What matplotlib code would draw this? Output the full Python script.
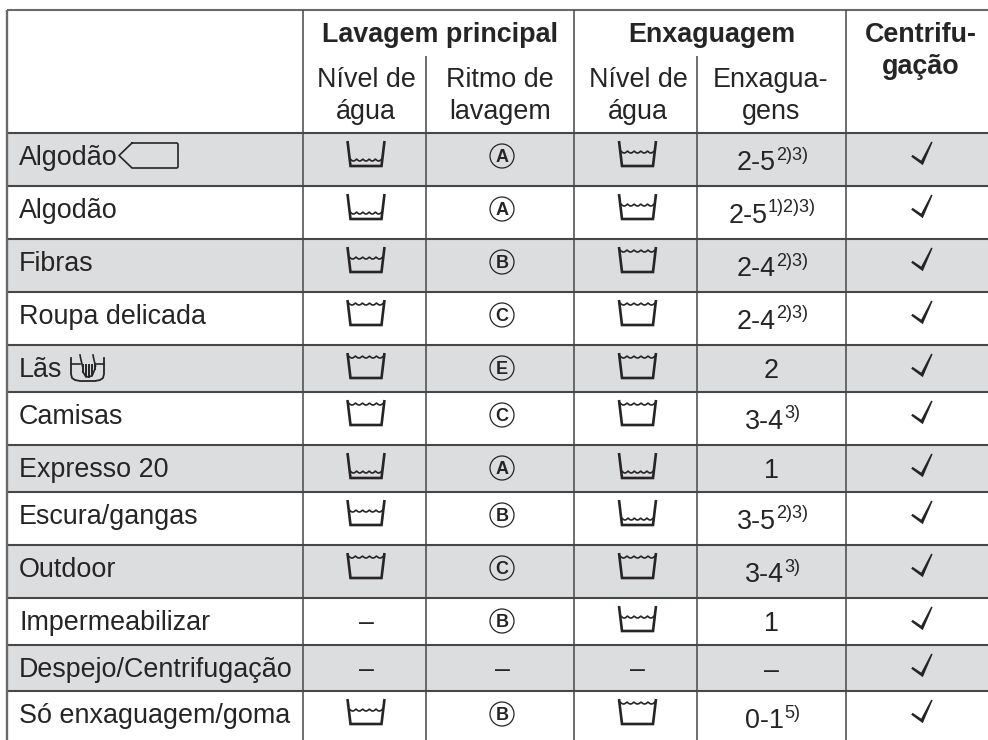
import numpy as np
import matplotlib
matplotlib.use('Agg')
import matplotlib.pyplot as plt
from matplotlib.patches import Circle, Polygon, Rectangle

plt.rcParams['font.family'] = 'Liberation Sans'

programmes = ['Algodão', 'Algodão', 'Fibras', 'Roupa delicada', 'Lãs', 'Camisas', 'Expresso 20',
              'Escura/gangas', 'Outdoor', 'Impermeabilizar', 'Despejo/Centrifugação', 'Só enxaguagem/goma']
main_level = ['low', 'low', 'mid', 'high', 'high', 'high', 'low', 'mid', 'high', '-', '-', 'mid']
main_rhythm = ['A', 'A', 'B', 'C', 'E', 'C', 'A', 'B', 'C', 'B', '-', 'B']
rinse_level = ['mid', 'mid', 'high', 'high', 'high', 'high', 'low', 'low', 'high', 'mid', '-', 'high']
rinse_count = ['2-5', '2-5', '2-4', '2-4', '2', '3-4', '1', '3-5', '3-4', '1', '–', '0-1']
rinse_notes = ['2)3)', '1)2)3)', '2)3)', '2)3)', '', '3)', '', '2)3)', '3)', '', '', '5)']

# layout in image pixels
row_y = [133, 186, 239, 292, 345, 392, 445, 492, 545, 598, 645, 691, 740]
col_x = [7, 303, 426, 574, 697, 846, 988]
wave_drop = {'high': 4, 'mid': 11, 'low': 19}

INK = '#262425'
LINE = '#474747'
GREY = '#dcddde'
FS = 19.4

fig = plt.figure(figsize=(9.88, 7.4), dpi=100)
ax = fig.add_axes([0, 0, 1, 1])
ax.set_xlim(0, 988)
ax.set_ylim(740, 0)
ax.axis('off')


def basin(cx, top, level):
    bottom = top + 25
    ax.plot([cx - 18.5, cx - 15.5, cx + 15.5, cx + 18.5], [top, bottom, bottom, top],
            color=INK, lw=1.9, solid_joinstyle='miter', solid_capstyle='butt')
    # water line, five small scallops
    t = np.linspace(0, 1, 60)
    half = 18.5 - 3 * wave_drop[level] / 25 - 0.5
    wx = cx - half + 2 * half * t
    wy = top + wave_drop[level] + 2.0 * (np.abs(np.sin(np.pi * 5 * t)) - 0.5)
    ax.plot(wx, wy, color=INK, lw=1.2)


def rhythm(cx, top, letter):
    ax.add_patch(Circle((cx, top + 23), 12, fill=False, ec=INK, lw=0.9))
    ax.text(cx, top + 29.3, letter, ha='center', va='baseline', fontsize=13,
            fontweight='bold', color=INK)


def tick(cx, top):
    vx, vy = cx, top + 31
    pts = [(-10.8, -7.3), (-9.4, -9.2), (-0.8, -3.4), (9.2, -22.4), (10.6, -21.8), (0.8, 1.2)]
    ax.add_patch(Polygon([(vx + a, vy + b) for a, b in pts], closed=True, fc=INK, ec='none'))


def tag():
    ax.plot([132, 119, 132, 177, 178, 178, 177, 132], [143, 155.5, 168, 168, 167, 144, 143, 143],
            color=INK, lw=1.2)


def hand_tub():
    # outer tub with side handles
    ax.plot([71, 71, 72, 75, 80, 95, 100, 103, 104, 104],
            [358, 374, 378, 380, 381, 381, 380, 378, 374, 358], color=INK, lw=1.3)
    ax.plot([71, 80], [364, 364], color=INK, lw=1.2)
    ax.plot([95, 104], [364, 364], color=INK, lw=1.2)
    # hand
    ax.plot([80, 81, 82.5], [355, 360, 366], color=INK, lw=1.2)
    ax.plot([93, 94, 95.5], [355, 360, 366], color=INK, lw=1.2)
    for x, y2 in zip([83, 86, 89, 92, 95], [372, 376, 377, 375, 369]):
        ax.plot([x, x], [365, y2], color=INK, lw=1.4)
    ax.plot([83, 86, 92, 95], [372, 377, 376, 369], color=INK, lw=1.2)


for i in range(len(programmes)):
    top = row_y[i]
    if i % 2 == 0:
        ax.add_patch(Rectangle((col_x[0], top), 988 - col_x[0], row_y[i + 1] - top, fc=GREY, ec='none', zorder=0))
    ax.text(19, top + 32, programmes[i], ha='left', va='baseline', fontsize=FS, color=INK)

    c1 = (col_x[1] + col_x[2]) / 2 + 1.5
    c2 = (col_x[2] + col_x[3]) / 2 + 2
    c3 = (col_x[3] + col_x[4]) / 2 + 2
    c4 = (col_x[4] + col_x[5]) / 2
    c5 = (col_x[5] + col_x[6]) / 2 + 5

    if main_level[i] == '-':
        ax.text(c1, top + 32, '–', ha='center', va='baseline', fontsize=FS, color=INK)
    else:
        basin(c1, top + 8, main_level[i])
    if main_rhythm[i] == '-':
        ax.text(c2, top + 32, '–', ha='center', va='baseline', fontsize=FS, color=INK)
    else:
        rhythm(c2, top, main_rhythm[i])
    if rinse_level[i] == '-':
        ax.text(c3, top + 32, '–', ha='center', va='baseline', fontsize=FS, color=INK)
    else:
        basin(c3, top + 8, rinse_level[i])

    if rinse_notes[i]:
        base = ax.text(0, top + 37, rinse_count[i], ha='left', va='baseline', fontsize=FS, color=INK)
        sup = ax.text(0, top + 26.5, rinse_notes[i], ha='left', va='baseline', fontsize=13, color=INK)
        r = fig.canvas.get_renderer()
        w1 = base.get_window_extent(r).width
        w2 = sup.get_window_extent(r).width
        start = c4 + 1 - (w1 + w2) / 2
        base.set_x(start)
        sup.set_x(start + w1)
    else:
        ax.text(c4, top + 33, rinse_count[i], ha='center', va='baseline', fontsize=FS, color=INK)
    tick(c5, top)

tag()
hand_tub()

# grid lines
for y in row_y[:-1]:
    ax.plot([col_x[0], 988], [y, y], color=LINE, lw=1.5, solid_capstyle='butt', zorder=3)
ax.plot([col_x[0], 988], [10, 10], color='#6a6a6a', lw=1.5, solid_capstyle='butt', zorder=3)
ax.plot([col_x[0], col_x[0]], [10, 740], color='#6a6a6a', lw=1.7, solid_capstyle='butt', zorder=3)
for x in [col_x[1], col_x[3], col_x[5]]:
    ax.plot([x, x], [10, 740], color=LINE, lw=1.1, solid_capstyle='butt', zorder=3)
for x in [col_x[2], col_x[4]]:
    ax.plot([x, x], [56, 740], color=LINE, lw=1.1, solid_capstyle='butt', zorder=3)

# header
ax.text(440, 42, 'Lavagem principal', ha='center', va='baseline', fontsize=FS, fontweight='bold', color=INK)
ax.text(712, 42, 'Enxaguagem', ha='center', va='baseline', fontsize=FS, fontweight='bold', color=INK)
ax.text(921, 42, 'Centrifu-', ha='center', va='baseline', fontsize=FS, fontweight='bold', color=INK)
ax.text(921, 74, 'gação', ha='center', va='baseline', fontsize=FS, fontweight='bold', color=INK)
ax.text(366, 87, 'Nível de', ha='center', va='baseline', fontsize=FS, color=INK)
ax.text(366, 119, 'água', ha='center', va='baseline', fontsize=FS, color=INK)
ax.text(500, 87, 'Ritmo de', ha='center', va='baseline', fontsize=FS, color=INK)
ax.text(500, 119, 'lavagem', ha='center', va='baseline', fontsize=FS, color=INK)
ax.text(638, 87, 'Nível de', ha='center', va='baseline', fontsize=FS, color=INK)
ax.text(638, 119, 'água', ha='center', va='baseline', fontsize=FS, color=INK)
ax.text(771, 87, 'Enxagua-', ha='center', va='baseline', fontsize=FS, color=INK)
ax.text(771, 119, 'gens', ha='center', va='baseline', fontsize=FS, color=INK)

fig.savefig('out.png', dpi=100)
